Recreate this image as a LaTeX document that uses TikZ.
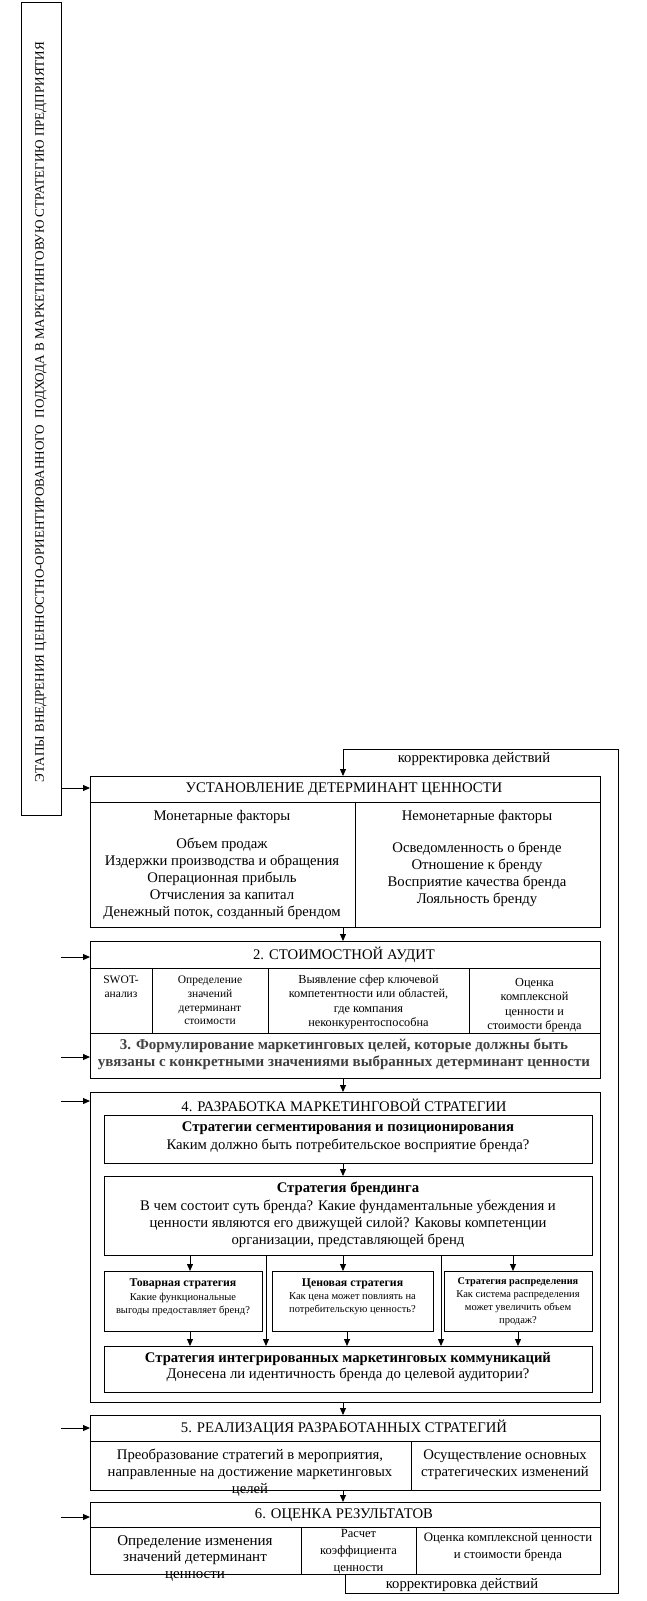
\documentclass[tikz,border=0pt]{standalone}
\usepackage{fontspec}
\setmainfont{Liberation Serif}
\usetikzlibrary{arrows.meta}
\begin{document}
\begin{tikzpicture}[x=1pt,y=-1pt,
  bx/.style={draw, line width=1pt, inner sep=0pt, anchor=north west},
  arr/.style={line width=1pt, -{Triangle[length=7pt,width=6pt]}},
  ln/.style={line width=1pt},
  tm/.style={font=\fontsize{14.7}{17}\selectfont, align=center, inner sep=0pt},
  tb/.style={font=\bfseries\fontsize{14.7}{17}\selectfont, align=center, inner sep=0pt},
  ts/.style={font=\fontsize{12.3}{14.5}\selectfont, align=center, inner sep=0pt},
  tss/.style={font=\fontsize{11.5}{13.7}\selectfont, align=center, inner sep=0pt},
  tx/.style={font=\fontsize{10.5}{13}\selectfont, align=center, inner sep=0pt},
  txb/.style={font=\bfseries\fontsize{11.8}{13}\selectfont, align=center, inner sep=0pt},
  ]
\useasboundingbox (0,0) rectangle (646,1601);
% title box
\node[bx, minimum width=40pt, minimum height=813pt] (T) at (21,2) {};
\node[rotate=90, font=\fontsize{13.1}{14}\selectfont, inner sep=0pt] (Tt) at (41,412) {ЭТАПЫ ВНЕДРЕНИЯ ЦЕННОСТНО-ОРИЕНТИРОВАННОГО\ \ ПОДХОДА В МАРКЕТИНГОВУЮ СТРАТЕГИЮ ПРЕДПРИЯТИЯ};
% main boxes
\node[bx, minimum width=510pt, minimum height=151pt] (B1) at (90,776) {};
\node[bx, minimum width=510pt, minimum height=92pt] (B2) at (90,941) {};
\node[bx, minimum width=510pt, minimum height=45pt] (B3) at (90,1033) {};
\node[bx, minimum width=510pt, minimum height=310pt] (B4) at (90,1092) {};
\node[bx, minimum width=488pt, minimum height=48pt] (A) at (104,1115) {};
\node[bx, minimum width=488pt, minimum height=79pt] (Bb) at (104,1176) {};
\node[bx, minimum width=158pt, minimum height=60pt] (C) at (104,1271) {};
\node[bx, minimum width=161pt, minimum height=60pt] (D) at (272,1271) {};
\node[bx, minimum width=148pt, minimum height=60pt] (E) at (444,1271) {};
\node[bx, minimum width=488pt, minimum height=46pt] (I) at (104,1346) {};
\node[bx, minimum width=510pt, minimum height=75pt] (B5) at (90,1415) {};
\node[bx, minimum width=510pt, minimum height=72pt] (B6) at (90,1502) {};
% dividers
\draw[ln] (90,802) -- (600,802) (355,802) -- (355,927);
\draw[ln] (90,968) -- (600,968) (152,968) -- (152,1033) (268,968) -- (268,1033) (469,968) -- (469,1033);
\draw[ln] (90,1441) -- (600,1441) (411,1441) -- (411,1490);
\draw[ln] (90,1527) -- (600,1527) (301,1527) -- (301,1574) (416,1527) -- (416,1574);
% texts box1
\node[tm] (h1) at (344,789) {УСТАНОВЛЕНИЕ ДЕТЕРМИНАНТ ЦЕННОСТИ};
\node[tm] (m1) at (222,817) {Монетарные факторы};
\node[tm] (m2) at (222,879) {Объем продаж\\Издержки производства и обращения\\Операционная прибыль\\Отчисления за капитал\\Денежный поток, созданный брендом};
\node[tm] (n1) at (477,817) {Немонетарные факторы};
\node[tm] (n2) at (477,874) {Осведомленность о бренде\\Отношение к бренду\\Восприятие качества бренда\\Лояльность бренду};
% box2
\node[tm] (h2) at (344,954.5) {2. СТОИМОСТНОЙ АУДИТ};
\node[tss] (s1) at (121,987) {SWOT-\\анализ};
\node[tss] (s2) at (210,1000.5) {Определение\\значений\\детерминант\\стоимости};
\node[ts] (s3) at (368.5,1002) {Выявление сфер ключевой\\компетентности или областей,\\где компания\\неконкурентоспособна};
\node[ts] (s4) at (534.5,1005) {Оценка\\комплексной\\ценности и\\стоимости бренда};
% box3
\node[tb, font=\bfseries\fontsize{15}{17}\selectfont, text=black!75] (h3) at (344,1054.5) {3. Формулирование маркетинговых целей, которые должны быть\\увязаны с конкретными значениями выбранных детерминант ценности};
% box4
\node[tm] (h4) at (344,1105) {4. РАЗРАБОТКА МАРКЕТИНГОВОЙ СТРАТЕГИИ};
\node[tb] (a1) at (348,1128) {Стратегии сегментирования и позиционирования};
\node[tm] (a2) at (348,1146) {Каким должно быть потребительское восприятие бренда?};
\node[tb] (b1) at (348,1189) {Стратегия брендинга};
\node[tm] (b2) at (348,1224) {В чем состоит суть бренда? Какие фундаментальные убеждения и\\ценности являются его движущей силой? Каковы компетенции\\организации, представляющей бренд};
\node[txb] (c1) at (183,1284) {Товарная стратегия};
\node[tx] (c2) at (183,1304) {Какие функциональные\\выгоды предоставляет бренд?};
\node[txb] (d1) at (352.5,1284) {Ценовая стратегия};
\node[tx] (d2) at (352.5,1304) {Как цена может повлиять на\\потребительскую ценность?};
\node[txb, font=\bfseries\fontsize{10.3}{13}\selectfont] (e1) at (518,1282) {Стратегия распределения};
\node[tx] (e2) at (518,1308) {Как система распределения\\может увеличить объем\\продаж?};
\node[tb] (i1) at (348,1359) {Стратегия интегрированных маркетинговых коммуникаций};
\node[tm] (i2) at (348,1375) {Донесена ли идентичность бренда до целевой аудитории?};
% box5
\node[tm] (h5) at (344,1428) {5. РЕАЛИЗАЦИЯ РАЗРАБОТАННЫХ СТРАТЕГИЙ};
\node[tm] (r1) at (250,1473) {Преобразование стратегий в мероприятия,\\направленные на достижение маркетинговых\\целей};
\node[tm] (r2) at (505,1464.5) {Осуществление основных\\стратегических изменений};
% box6
\node[tm] (h6) at (344,1515) {6. ОЦЕНКА РЕЗУЛЬТАТОВ};
\node[tm, font=\fontsize{15}{16.5}\selectfont] (o1) at (195,1558) {Определение изменения\\значений детерминант\\ценности};
\node[ts, font=\fontsize{12.5}{17}\selectfont] (o2) at (358.5,1552) {Расчет\\коэффициента\\ценности};
\node[ts, font=\fontsize{12.8}{17}\selectfont] (o3) at (508,1546.5) {Оценка комплексной ценности\\и стоимости бренда};
% feedback
\coordinate (f1) at (343,749);
\coordinate (f2) at (618,749);
\coordinate (f3) at (618,1593);
\coordinate (f4) at (345,1593);
\draw[ln] (B6.south -| f4) -- (f4) -- (f3) -- (f2) -- (f1);
\draw[arr] (f1) -- (f1 |- B1.north);
\node[tm] (k1) at (474,759) {корректировка действий};
\node[tm] (k2) at (462,1585) {корректировка действий};
% main flow arrows
\coordinate (cx) at (343,0);
\draw[arr] (B1.south -| cx) -- (B2.north -| cx);
\draw[arr] (B3.south -| cx) -- (B4.north -| cx);
\draw[arr] (A.south -| cx) -- (Bb.north -| cx);
\draw[arr] (B4.south -| cx) -- (B5.north -| cx);
\draw[arr] (B5.south -| cx) -- (B6.north -| cx);
% branding arrows
\coordinate (x1) at (190,0);
\coordinate (x2) at (343,0);
\coordinate (x3) at (513,0);
\coordinate (y1) at (266,0);
\coordinate (y2) at (441,0);
\coordinate (z2) at (347,0);
\coordinate (z3) at (518,0);
\draw[arr] (Bb.south -| x1) -- (C.north -| x1);
\draw[arr] (Bb.south -| x2) -- (D.north -| x2);
\draw[arr] (Bb.south -| x3) -- (E.north -| x3);
\draw[arr] (Bb.south -| y1) -- (I.north -| y1);
\draw[arr] (Bb.south -| y2) -- (I.north -| y2);
\draw[arr] (C.south -| x1) -- (I.north -| x1);
\draw[arr] (D.south -| z2) -- (I.north -| z2);
\draw[arr] (E.south -| z3) -- (I.north -| z3);
% left arrows
\coordinate (t0) at (61,788);
\draw[arr] (t0) -- (t0 -| B1.west);
\coordinate (l2) at (61,957);
\coordinate (l3) at (61,1057);
\coordinate (l4) at (61,1101);
\coordinate (l5) at (61,1428);
\coordinate (l6) at (61,1517);
\draw[arr] (l2) -- (l2 -| B2.west);
\draw[arr] (l3) -- (l3 -| B3.west);
\draw[arr] (l4) -- (l4 -| B4.west);
\draw[arr] (l5) -- (l5 -| B5.west);
\draw[arr] (l6) -- (l6 -| B6.west);
\end{tikzpicture}
\end{document}
